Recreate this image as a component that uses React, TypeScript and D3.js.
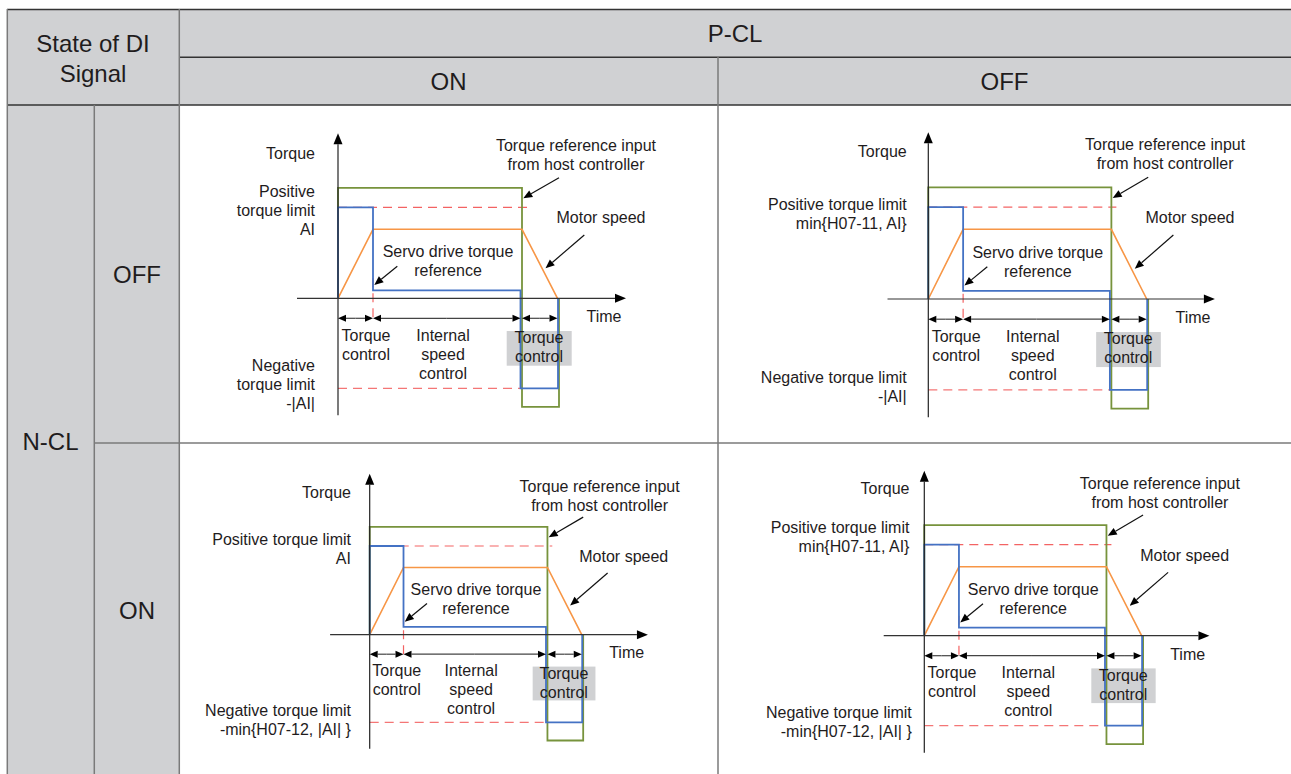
import React from "react";
import * as d3 from "d3";

const W = 1291;
const H = 774;

// table headings
const cornerLabel = ["State of DI", "Signal"];
const pclLabel = "P-CL";
const pclStates = ["ON", "OFF"];
const nclLabel = "N-CL";
const nclStates = ["OFF", "ON"];

// curves shared by every panel: [time, torque] in arbitrary units
const hostRef: [number, number][] = [[0, 0], [0, 110.5], [184, 110.5], [184, -108.5], [221, -108.5], [221, 0]];
const servoRef: [number, number][] = [[0, 0], [0, 91], [35, 91], [35, 8], [182.5, 8], [182.5, -90], [220, -90], [220, 0]];
const motorSpeed: [number, number][] = [[0, 0], [35, 69], [184, 69], [219.5, 0]];
const posLimit = 91;
const negLimit = -90;
const posLimitEnd = 189;
const negLimitEnd = 183;
const switchTime = 35;

// control phases along the time axis
const phases: [number, number][] = [[0, 35], [35, 182.5], [184, 219.5]];
const phaseText = [["Torque", "control"], ["Internal", "speed", "control"], ["Torque", "control"]];

// per-panel limit labels (order: N-CL OFF/P-CL ON, N-CL OFF/P-CL OFF, N-CL ON/P-CL ON, N-CL ON/P-CL OFF)
const posLimitText = [
  ["Positive", "torque limit", "AI"],
  ["Positive torque limit", "min{H07-11, AI}"],
  ["Positive torque limit", "AI"],
  ["Positive torque limit", "min{H07-11, AI}"],
];
const negLimitText = [
  ["Negative", "torque limit", "-|AI|"],
  ["Negative torque limit", "-|AI|"],
  ["Negative torque limit", "-min{H07-12, |AI| }"],
  ["Negative torque limit", "-min{H07-12, |AI| }"],
];

// panel frames
const panels = [
  { x0: 338, y0: 298.3, kx: 1, ky: 1, right: -23, negRight: -23, torqueY: 145.6, posY: 107.6, negY: -67 },
  { x0: 928.3, y0: 299, kx: 0.995, ky: 1.01, right: -21.7, negRight: -21.7, torqueY: 146.8, posY: 94, negY: -77 },
  { x0: 369.7, y0: 634.7, kx: 0.966, ky: 0.975, right: -19.4, negRight: -19.4, torqueY: 146.7, posY: 98.2, negY: -77.2 },
  { x0: 924.3, y0: 635.7, kx: 0.99, ky: 1, right: -15, negRight: -12.6, torqueY: 147.4, posY: 109, negY: -76 },
];

const FONT = "'Liberation Sans', Arial, sans-serif";
const INK = "#1f1c1d";
const GREY = "#d0d1d3";
const GREEN = "#77933c";
const BLUE = "#4472c4";
const ORANGE = "#f79646";
const RED = "#f03c3c";

function Arrow({ x1, y1, x2, y2, color = "#111", len = 9, half = 3.8 }: any) {
  const a = Math.atan2(y2 - y1, x2 - x1);
  const bx = x2 - len * Math.cos(a);
  const by = y2 - len * Math.sin(a);
  const px = -Math.sin(a) * half;
  const py = Math.cos(a) * half;
  return (
    <g>
      <line x1={x1} y1={y1} x2={bx} y2={by} stroke={color} strokeWidth={1.2} />
      <polygon points={`${x2},${y2} ${bx + px},${by + py} ${bx - px},${by - py}`} fill="#000" />
    </g>
  );
}

function Lines({ lines, x, y, anchor = "middle", step = 19, size = 16 }: any) {
  return (
    <text x={x} y={y} textAnchor={anchor} fontFamily={FONT} fontSize={size} fill={INK} dominantBaseline="central">
      {lines.map((s: string, i: number) => (
        <tspan key={i} x={x} y={y + i * step} dominantBaseline="central">{s}</tspan>
      ))}
    </text>
  );
}

function Panel({ p, i }: any) {
  const x = d3.scaleLinear().domain([0, 100]).range([p.x0, p.x0 + 100 * p.kx]);
  const y = d3.scaleLinear().domain([0, 100]).range([p.y0, p.y0 - 100 * p.ky]);
  const line = d3.line<[number, number]>().x(d => x(d[0])).y(d => y(d[1]));
  const arrowY = y(-20);
  const boxL = x(168.7), boxR = x(233.7), boxT = y(-32.7), boxB = y(-67.4);
  return (
    <g>
      <rect x={boxL} y={boxT} width={boxR - boxL} height={boxB - boxT} fill={GREY} />
      <line x1={x(0)} x2={x(posLimitEnd)} y1={y(posLimit)} y2={y(posLimit)} stroke={RED} strokeOpacity={0.8} strokeWidth={1.2} strokeDasharray="9,6" />
      <line x1={x(0)} x2={x(negLimitEnd)} y1={y(negLimit)} y2={y(negLimit)} stroke={RED} strokeOpacity={0.7} strokeWidth={1.2} strokeDasharray="9,6" />
      <line x1={x(switchTime)} x2={x(switchTime)} y1={y(20)} y2={y(-23)} stroke={RED} strokeOpacity={0.8} strokeWidth={1.2} strokeDasharray="9,6" />
      <path d={line(hostRef) || ""} fill="none" stroke={GREEN} strokeWidth={1.8} />
      <path d={line(motorSpeed) || ""} fill="none" stroke={ORANGE} strokeWidth={1.6} />
      <path d={line(servoRef) || ""} fill="none" stroke={BLUE} strokeWidth={1.8} />
      {/* axes */}
      <Arrow x1={x(0)} y1={y(-117)} x2={x(0)} y2={y(165)} color="#222" len={11} half={4.5} />
      <Arrow x1={x(-41)} y1={y(0)} x2={x(288)} y2={y(0)} color="#333" len={11} half={4.5} />
      {/* phase arrows */}
      {phases.map(([a, b], k) => (
        <g key={k}>
          <Arrow x1={(x(a) + x(b)) / 2} y1={arrowY} x2={x(b)} y2={arrowY} color="#444" len={8} half={3.5} />
          <Arrow x1={(x(a) + x(b)) / 2} y1={arrowY} x2={x(a)} y2={arrowY} color="#444" len={8} half={3.5} />
        </g>
      ))}
      <Lines lines={phaseText[0]} x={x(28)} y={y(-36.5)} />
      <Lines lines={phaseText[1]} x={x(105)} y={y(-36.5)} />
      <Lines lines={phaseText[2]} x={x(201)} y={y(-39)} />
      {/* annotations */}
      <Lines lines={["Torque reference input", "from host controller"]} x={x(238)} y={y(153)} />
      <Arrow x1={x(221)} y1={y(120.6)} x2={x(185.3)} y2={y(100)} />
      <Lines lines={["Motor speed"]} x={x(263)} y={y(81)} />
      <Arrow x1={x(246.3)} y1={y(63.3)} x2={x(207.5)} y2={y(30)} />
      <Lines lines={["Servo drive torque", "reference"]} x={x(110)} y={y(47)} />
      <Arrow x1={x(59.3)} y1={y(32)} x2={x(36.3)} y2={y(13.3)} />
      <Lines lines={["Time"]} x={x(266)} y={y(-18)} />
      {/* left labels */}
      <Lines lines={["Torque"]} x={x(p.right)} y={y(p.torqueY)} anchor="end" />
      <Lines lines={posLimitText[i]} x={x(p.right)} y={y(p.posY)} anchor="end" />
      <Lines lines={negLimitText[i]} x={x(p.negRight)} y={y(p.negY)} anchor="end" />
    </g>
  );
}

export default function App() {
  const dark = "#333";
  const mid = "#7a7a7a";
  const hs = 24;
  return (
    <svg width={W} height={H} style={{ position: "absolute", left: 0, top: 0, background: "#fff" }}>
      {/* grey header & left cells */}
      <rect x={7} y={9} width={W - 7} height={96} fill={GREY} />
      <rect x={7} y={105} width={172} height={H - 105} fill={GREY} />
      {/* grid */}
      <line x1={7} x2={W} y1={9.5} y2={9.5} stroke={dark} strokeWidth={1.6} />
      <line x1={179} x2={W} y1={57.3} y2={57.3} stroke={dark} strokeWidth={1.5} />
      <line x1={7} x2={W} y1={105} y2={105} stroke={dark} strokeWidth={1.5} />
      <line x1={94} x2={W} y1={443} y2={443} stroke={mid} strokeWidth={1.5} />
      <line x1={7.3} x2={7.3} y1={9} y2={H} stroke={mid} strokeWidth={1.5} />
      <line x1={94.3} x2={94.3} y1={105} y2={H} stroke={mid} strokeWidth={1.5} />
      <line x1={179.3} x2={179.3} y1={9} y2={H} stroke={mid} strokeWidth={1.5} />
      <line x1={718} x2={718} y1={57} y2={H} stroke={mid} strokeWidth={1.5} />
      {/* header text */}
      <Lines lines={cornerLabel} x={93} y={43} size={hs} step={30} />
      <Lines lines={[pclLabel]} x={(179 + W) / 2} y={33} size={hs} />
      <Lines lines={[pclStates[0]]} x={(179 + 718) / 2} y={81} size={hs} />
      <Lines lines={[pclStates[1]]} x={(718 + W) / 2} y={81} size={hs} />
      <Lines lines={[nclLabel]} x={50.5} y={441} size={hs} />
      <Lines lines={[nclStates[0]]} x={137} y={274} size={hs} />
      <Lines lines={[nclStates[1]]} x={137} y={610} size={hs} />
      {panels.map((p, i) => <Panel key={i} p={p} i={i} />)}
    </svg>
  );
}
